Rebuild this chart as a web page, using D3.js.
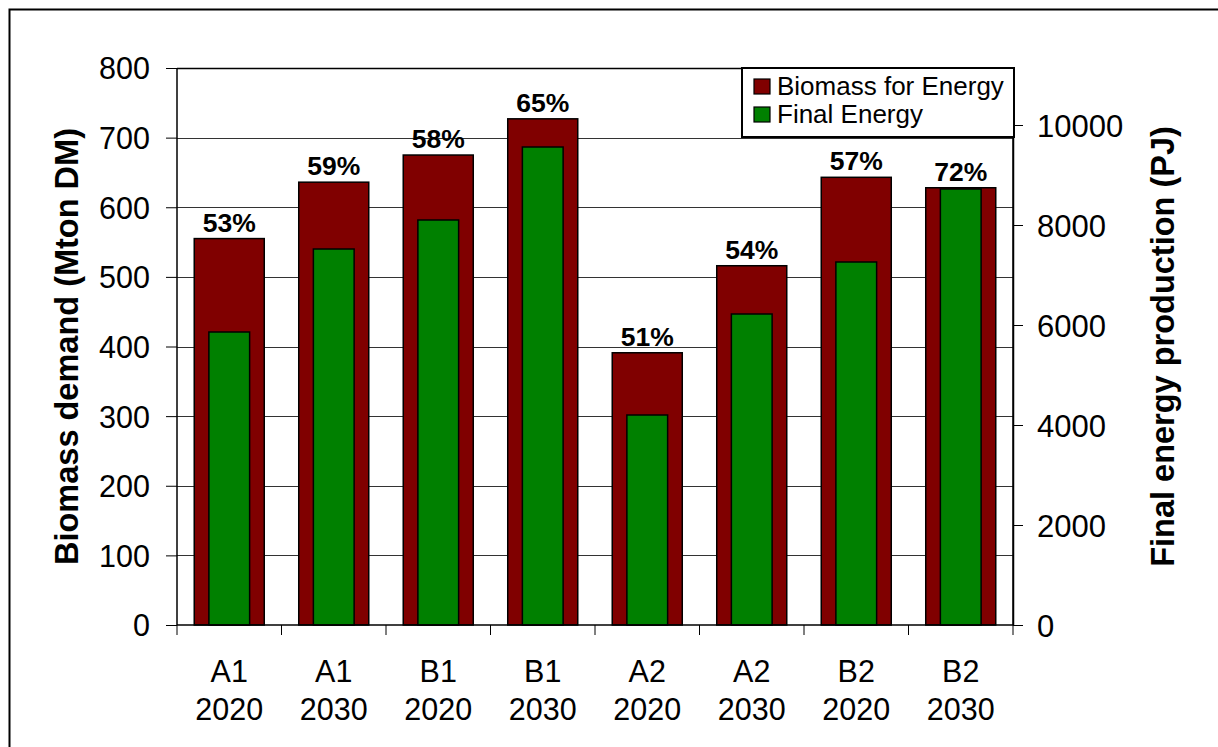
<!DOCTYPE html>
<html>
<head>
<meta charset="utf-8">
<script src="https://cdn.jsdelivr.net/npm/d3@7"></script>
<style>
  html, body { margin: 0; padding: 0; background: #fff; }
  svg { display: block; font-family: "Liberation Sans", Arial, sans-serif; }
</style>
</head>
<body>
<svg id="chart" width="1218" height="747"></svg>
<script>
// Scenario / year categories (two-line labels)
const scenarios = ["A1", "A1", "B1", "B1", "A2", "A2", "B2", "B2"];
const years = ["2020", "2030", "2020", "2030", "2020", "2030", "2020", "2030"];

// Biomass demand for energy (Mton DM), left axis
const biomassForEnergy = [555, 636, 675, 727, 391, 516, 643, 628];
// Final energy production (PJ), right axis
const finalEnergy = [5860, 7520, 8100, 9560, 4200, 6220, 7260, 8720];
// Conversion efficiency labels shown above each bar
const efficiency = ["53%", "59%", "58%", "65%", "51%", "54%", "57%", "72%"];

const leftTicks = [0, 100, 200, 300, 400, 500, 600, 700, 800];
const rightTicks = [0, 2000, 4000, 6000, 8000, 10000];

const seriesNames = ["Biomass for Energy", "Final Energy"];
const colors = ["#800000", "#008000"];

const svg = d3.select("#chart");
const plot = { left: 177, right: 1013, top: 68, bottom: 625 };

const cats = d3.range(scenarios.length);
const x = d3.scaleBand().domain(cats).range([plot.left, plot.right]).padding(0);
const yL = d3.scaleLinear().domain([0, 800]).range([plot.bottom, plot.top]);
const yR = d3.scaleLinear().domain([0, 11140]).range([plot.bottom, plot.top]);

// outer frame (top and left edges visible)
svg.append("path")
  .attr("d", "M9.5,747 V9.5 H1218")
  .attr("fill", "none").attr("stroke", "#000").attr("stroke-width", 2);

// horizontal gridlines
svg.append("g").selectAll("line").data(leftTicks.slice(1)).join("line")
  .attr("x1", plot.left).attr("x2", plot.right)
  .attr("y1", d => Math.round(yL(d)) + 0.5).attr("y2", d => Math.round(yL(d)) + 0.5)
  .attr("stroke", "#333").attr("stroke-width", 1);

// plot frame: top and right edges
svg.append("path")
  .attr("d", `M${plot.left},${plot.top + 0.5} H${plot.right + 0.5} V${plot.bottom}`)
  .attr("fill", "none").attr("stroke", "#000").attr("stroke-width", 1.5);

const redW = x.bandwidth() * 0.67;
const greenW = x.bandwidth() * 0.39;

// biomass bars
svg.append("g").selectAll("rect").data(cats).join("rect")
  .attr("x", i => x(i) + (x.bandwidth() - redW) / 2)
  .attr("width", redW)
  .attr("y", i => yL(biomassForEnergy[i]))
  .attr("height", i => plot.bottom - yL(biomassForEnergy[i]))
  .attr("fill", colors[0]).attr("stroke", "#000").attr("stroke-width", 1.5);

// final energy bars
svg.append("g").selectAll("rect").data(cats).join("rect")
  .attr("x", i => x(i) + (x.bandwidth() - greenW) / 2)
  .attr("width", greenW)
  .attr("y", i => yR(finalEnergy[i]))
  .attr("height", i => plot.bottom - yR(finalEnergy[i]))
  .attr("fill", colors[1]).attr("stroke", "#000").attr("stroke-width", 1.5);

// efficiency labels
svg.append("g").selectAll("text").data(cats).join("text")
  .attr("x", i => x(i) + x.bandwidth() / 2)
  .attr("y", i => yL(biomassForEnergy[i]) - 7)
  .attr("text-anchor", "middle")
  .attr("font-size", 26.5).attr("font-weight", "bold")
  .text(i => efficiency[i]);

// left axis
const axL = svg.append("g").attr("transform", `translate(${plot.left},0)`)
  .call(d3.axisLeft(yL).tickValues(leftTicks).tickSize(11).tickPadding(16));
axL.select(".domain").attr("stroke", "#000").attr("stroke-width", 1.5).attr("d", `M0,${plot.top}V${plot.bottom}`);
axL.selectAll(".tick line").attr("stroke", "#000");
axL.selectAll(".tick text").attr("font-size", 30.5).attr("font-family", "Liberation Sans, Arial, sans-serif").attr("fill", "#000").attr("dy", "0.36em");

// right axis
const axR = svg.append("g").attr("transform", `translate(${plot.right},0)`)
  .call(d3.axisRight(yR).tickValues(rightTicks).tickSize(10).tickPadding(14).tickFormat(d3.format("d")));
axR.select(".domain").attr("stroke", "#000").attr("stroke-width", 1.5).attr("d", `M0,${plot.top}V${plot.bottom}`);
axR.selectAll(".tick line").attr("stroke", "#000");
axR.selectAll(".tick text").attr("font-size", 31).attr("font-family", "Liberation Sans, Arial, sans-serif").attr("fill", "#000").attr("dy", "0.36em");

// category axis: baseline, boundary ticks, two-line labels
svg.append("line")
  .attr("x1", plot.left).attr("x2", plot.right)
  .attr("y1", plot.bottom).attr("y2", plot.bottom)
  .attr("stroke", "#000").attr("stroke-width", 1.5);
svg.append("g").selectAll("line").data(d3.range(scenarios.length + 1)).join("line")
  .attr("x1", i => plot.left + i * x.bandwidth()).attr("x2", i => plot.left + i * x.bandwidth())
  .attr("y1", plot.bottom).attr("y2", plot.bottom + 10)
  .attr("stroke", "#000").attr("stroke-width", 1);
const xl = svg.append("g").selectAll("text").data(cats).join("text")
  .attr("x", i => x(i) + x.bandwidth() / 2)
  .attr("text-anchor", "middle")
  .attr("font-size", 30.5);
xl.append("tspan").attr("x", i => x(i) + x.bandwidth() / 2).attr("y", 682).text(i => scenarios[i]);
xl.append("tspan").attr("x", i => x(i) + x.bandwidth() / 2).attr("y", 720).text(i => years[i]);

// axis titles
svg.append("text")
  .attr("transform", `translate(78,${(plot.top + plot.bottom) / 2}) rotate(-90)`)
  .attr("text-anchor", "middle").attr("font-size", 32.5).attr("font-weight", "bold")
  .text("Biomass demand (Mton DM)");
svg.append("text")
  .attr("transform", `translate(1174,${(plot.top + plot.bottom) / 2}) rotate(-90)`)
  .attr("text-anchor", "middle").attr("font-size", 32.5).attr("font-weight", "bold")
  .text("Final energy production (PJ)");

// legend
const lg = svg.append("g");
lg.append("rect").attr("x", 742).attr("y", 68).attr("width", 272).attr("height", 69)
  .attr("fill", "#fff").attr("stroke", "#000").attr("stroke-width", 2);
seriesNames.forEach((name, k) => {
  lg.append("rect").attr("x", 754).attr("y", 79 + k * 28).attr("width", 16).attr("height", 15)
    .attr("fill", colors[k]).attr("stroke", "#000").attr("stroke-width", 1.2);
  lg.append("text").attr("x", 777).attr("y", 95 + k * 28)
    .attr("font-size", 26).text(name);
});
</script>
</body>
</html>
